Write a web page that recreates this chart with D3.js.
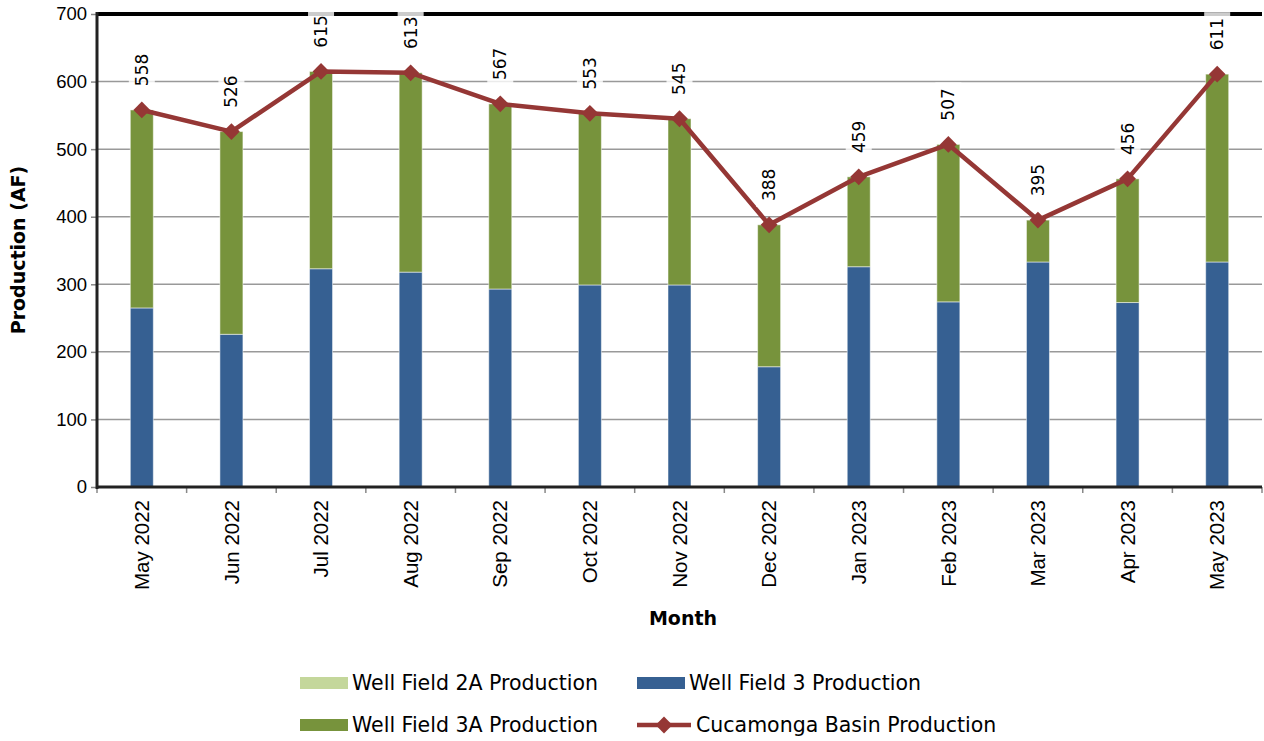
<!DOCTYPE html>
<html>
<head>
<meta charset="utf-8">
<script src="https://d3js.org/d3.v7.min.js"></script>
<style>
  body { margin: 0; background: #fff; }
  svg { font-family: "DejaVu Sans", sans-serif; }
</style>
</head>
<body>
<div id="chart"></div>
<script>
// chart values
var months = ["May 2022", "Jun 2022", "Jul 2022", "Aug 2022", "Sep 2022", "Oct 2022", "Nov 2022",
              "Dec 2022", "Jan 2023", "Feb 2023", "Mar 2023", "Apr 2023", "May 2023"];
var wf2a = [0, 0, 0, 0, 0, 0, 0, 0, 0, 0, 0, 0, 0];
var wf3 = [265, 226, 323, 318, 293, 299, 299, 178, 326, 274, 333, 273, 333];
var totals = [558, 526, 615, 613, 567, 553, 545, 388, 459, 507, 395, 456, 611];
var wf3a = totals.map(function (t, i) { return t - wf3[i] - wf2a[i]; });
var yTicks = [0, 100, 200, 300, 400, 500, 600, 700];

var width = 1264, height = 741;
var mLeft = 97, mRight = 1262, mTop = 14, mBottom = 487;

var svg = d3.select("#chart").append("svg").attr("width", width).attr("height", height);

var x = d3.scaleBand().domain(months).range([mLeft, mRight]).paddingInner(0).paddingOuter(0);
var y = d3.scaleLinear().domain([0, 700]).range([mBottom, mTop]);

// gridlines
svg.append("g").selectAll("line").data(yTicks.slice(1, -1)).enter().append("line")
    .attr("x1", mLeft).attr("x2", mRight)
    .attr("y1", function (d) { return y(d); }).attr("y2", function (d) { return y(d); })
    .attr("stroke", "#999").attr("stroke-width", 1.5);

// stacked bars
var rows = months.map(function (m, i) { return { month: m, wf3: wf3[i], wf3a: wf3a[i], wf2a: wf2a[i] }; });
var stack = d3.stack().keys(["wf3", "wf3a", "wf2a"])(rows);
var colors = { wf3: "#366092", wf3a: "#77933c", wf2a: "#c4d79b" };
var barW = 23;

svg.append("g").selectAll("g").data(stack).enter().append("g")
    .attr("fill", function (d) { return colors[d.key]; })
    .selectAll("rect").data(function (d) { return d; }).enter().append("rect")
    .attr("x", function (d) { return x(d.data.month) + x.bandwidth() / 2 - barW / 2; })
    .attr("width", barW)
    .attr("y", function (d) { return y(d[1]); })
    .attr("height", function (d) { return y(d[0]) - y(d[1]); })
    .attr("stroke", "rgba(255,255,255,0.5)").attr("stroke-width", 1);

// axes
var yAxis = svg.append("g").attr("transform", "translate(" + mLeft + ",0)")
    .call(d3.axisLeft(y).tickValues(yTicks).tickSize(6).tickPadding(4));
yAxis.select(".domain").remove();
yAxis.selectAll("line").attr("stroke", "#888").attr("stroke-width", 1.5);
yAxis.selectAll("text").attr("font-size", 18.5).attr("fill", "#000");

var xAxis = svg.append("g").attr("transform", "translate(0," + mBottom + ")")
    .call(d3.axisBottom(x).tickSize(0).tickPadding(0));
xAxis.select(".domain").remove();
xAxis.selectAll("text")
    .attr("font-size", 20.5).attr("fill", "#000")
    .attr("text-anchor", "end")
    .attr("transform", "rotate(-90)")
    .attr("x", -13).attr("y", 0).attr("dy", "0.35em");

// x tick marks at category boundaries
svg.append("g").selectAll("line").data(d3.range(months.length + 1)).enter().append("line")
    .attr("x1", function (i) { return mLeft + i * x.step(); })
    .attr("x2", function (i) { return mLeft + i * x.step(); })
    .attr("y1", mBottom).attr("y2", mBottom + 6)
    .attr("stroke", "#888").attr("stroke-width", 1.5);

// frame lines
svg.append("line").attr("x1", mLeft).attr("x2", mRight).attr("y1", mTop).attr("y2", mTop)
    .attr("stroke", "#000").attr("stroke-width", 4);
svg.append("line").attr("x1", mLeft - 1).attr("x2", mRight).attr("y1", mBottom).attr("y2", mBottom)
    .attr("stroke", "#222").attr("stroke-width", 3);
svg.append("line").attr("x1", mLeft).attr("x2", mLeft).attr("y1", mTop - 2).attr("y2", mBottom + 2)
    .attr("stroke", "#222").attr("stroke-width", 3);

// total line with diamond markers
var cx = function (d, i) { return x(months[i]) + x.bandwidth() / 2; };
var line = d3.line().x(cx).y(function (d) { return y(d); });
svg.append("path").datum(totals).attr("d", line)
    .attr("fill", "none").attr("stroke", "#953735").attr("stroke-width", 4.5)
    .attr("stroke-linejoin", "round");

var diamond = d3.symbol().type(d3.symbolDiamond2).size(180);
svg.append("g").selectAll("path").data(totals).enter().append("path")
    .attr("d", diamond)
    .attr("transform", function (d, i) { return "translate(" + cx(d, i) + "," + y(d) + ")"; })
    .attr("fill", "#953735");

// data labels (rotated, white box behind)
var labels = svg.append("g").selectAll("g").data(totals).enter().append("g")
    .attr("transform", function (d, i) { return "translate(" + cx(d, i) + "," + (y(d) - 40) + ") rotate(-90)"; });
labels.append("rect")
    .attr("x", -22).attr("y", -13).attr("width", 44).attr("height", 26)
    .attr("fill", "rgba(255,255,255,0.8)");
labels.append("text")
    .attr("text-anchor", "middle").attr("dy", "0.35em")
    .attr("font-size", 17).attr("fill", "#000")
    .text(function (d) { return d; });

// axis titles
svg.append("text").attr("x", 683).attr("y", 625).attr("text-anchor", "middle")
    .attr("font-size", 19).attr("font-weight", "bold").text("Month");
svg.append("text").attr("transform", "translate(25,250) rotate(-90)").attr("text-anchor", "middle")
    .attr("font-size", 19).attr("font-weight", "bold").text("Production (AF)");

// legend
var legendItems = [
  { name: "Well Field 2A Production", color: "#c4d79b", x: 300, y: 683, type: "rect" },
  { name: "Well Field 3 Production", color: "#366092", x: 637, y: 683, type: "rect" },
  { name: "Well Field 3A Production", color: "#77933c", x: 300, y: 725, type: "rect" },
  { name: "Cucamonga Basin Production", color: "#953735", x: 637, y: 725, type: "line" }
];
var lg = svg.append("g").selectAll("g").data(legendItems).enter().append("g")
    .attr("transform", function (d) { return "translate(" + d.x + "," + d.y + ")"; });
lg.filter(function (d) { return d.type === "rect"; }).append("rect")
    .attr("x", 0).attr("y", -6).attr("width", 48).attr("height", 12)
    .attr("fill", function (d) { return d.color; });
var ll = lg.filter(function (d) { return d.type === "line"; });
ll.append("line").attr("x1", 0).attr("x2", 54).attr("y1", 0).attr("y2", 0)
    .attr("stroke", function (d) { return d.color; }).attr("stroke-width", 4.5);
ll.append("path").attr("d", diamond).attr("transform", "translate(27,0)")
    .attr("fill", function (d) { return d.color; });
lg.append("text").attr("x", function (d) { return d.type === "line" ? 59 : 52; }).attr("dy", "0.35em")
    .attr("font-size", 20.5).attr("fill", "#000")
    .text(function (d) { return d.name; });
</script>
</body>
</html>
